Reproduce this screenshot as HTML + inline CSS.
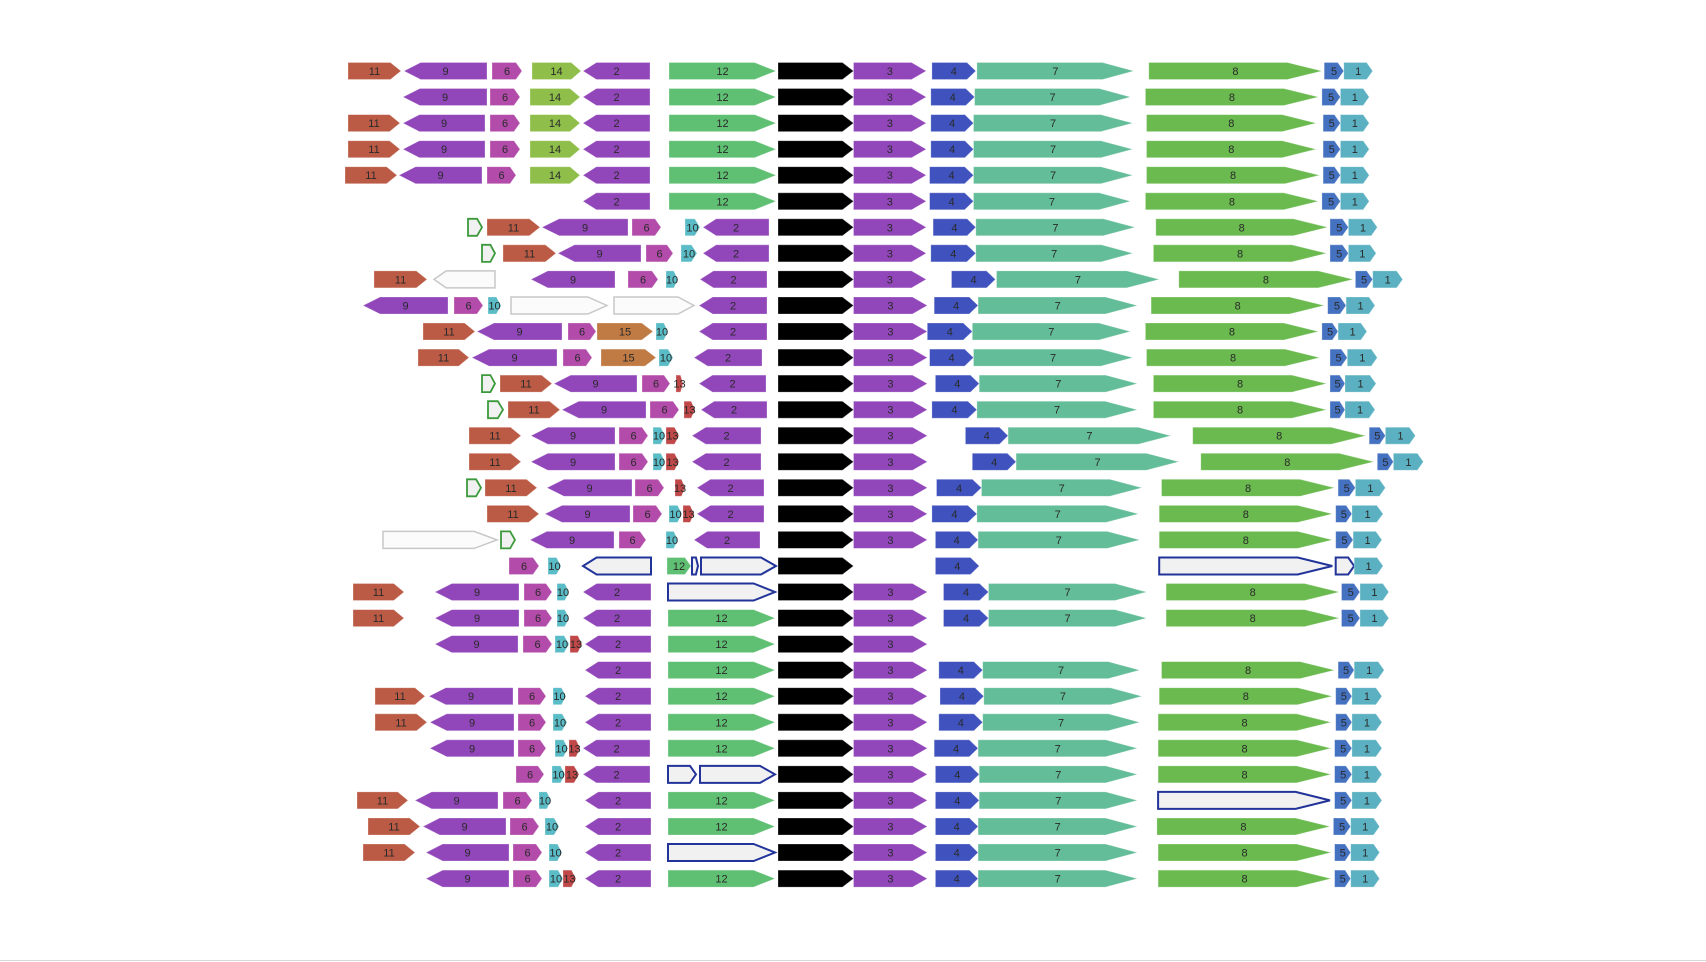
<!DOCTYPE html>
<html><head><meta charset="utf-8"><style>
html,body{margin:0;padding:0;background:#fff;}
svg{display:block;}
text{font-family:"Liberation Sans",sans-serif;font-size:11px;fill:#2a2a2a;}
</style></head><body>
<svg id="chart" width="1706" height="962" viewBox="0 0 1706 962">
<line x1="0" y1="960.5" x2="1706" y2="960.5" stroke="#d8d8d8" stroke-width="1"/>
</svg>
<script>
const colors = {"1":"#5bb1c1","2":"#9146b9","3":"#9146b9","4":"#3f52bd","5":"#4472c0","6":"#b24ba9","7":"#63bd98","8":"#6aba4f","9":"#9146b9","10":"#5abcc6","11":"#bb5b45","12":"#5fbf72","13":"#c04848","14":"#8fbe4a","15":"#c07a44","B":"#000000"};
const outlineStyles = {g:["#fbfbfb","#c8c8c8",1.5],G:["#f1f1f1","#3c9a3c",1.8],N:["#f1f1f1","#22339a",2]};
const rowStart = 71;
const rowStep = 26.05;
const BLK = ["B",778,851,1];
const row0 = [["11",348,401,1],["9",404,487,-1],["6",492,522,1],["14",532,581,1],["2",583,650,-1],["12",669,776,1],BLK,["3",851,914,1],["4",919,957,1],["7",958,1094,1],["8",1107,1257,1],["5",1259,1276,1],["1",1276,1301,1]];
const row1 = [["9",403,487,-1],["6",490,520,1],["14",530,580,1],["2",583,650,-1],["12",669,776,1],BLK,["3",851,914,1],["4",918,956,1],["7",956,1091,1],["8",1104,1254,1],["5",1257,1273,1],["1",1273,1298,1]];
const row2 = [["11",348,400,1],["9",403,485,-1],["6",490,520,1],["14",530,580,1],["2",583,650,-1],["12",669,776,1],BLK,["3",851,914,1],["4",918,955,1],["7",955,1093,1],["8",1105,1252,1],["5",1258,1273,1],["1",1273,1298,1]];
const row3 = row2;
const row4 = [["11",345,397,1],["9",399,482,-1],["6",487,516,1],["14",530,580,1],["2",583,650,-1],["12",669,776,1],BLK,["3",851,914,1],["4",917,955,1],["7",955,1093,1],["8",1105,1255,1],["5",1258,1273,1],["1",1273,1298,1]];
const row5 = [["2",583,650,-1],["12",669,776,1],BLK,["3",851,914,1],["4",917,955,1],["7",955,1091,1],["8",1104,1254,1],["5",1257,1273,1],["1",1273,1298,1]];
const row6 = [["",468,482,1,"G"],["11",487,540,1],["9",542,628,-1],["6",632,661,1],["10",685,700,1],["2",703,769,-1],BLK,["3",851,914,1],["4",920,957,1],["7",957,1095,1],["8",1113,1262,1],["5",1264,1280,1],["1",1280,1305,1]];
const row7 = [["",482,495,1,"G"],["11",503,556,1],["9",558,641,-1],["6",646,673,1],["10",681,697,1],["2",703,769,-1],BLK,["3",851,914,1],["4",918,957,1],["7",957,1093,1],["8",1111,1261,1],["5",1264,1280,1],["1",1280,1304,1]];
const row8 = [["11",374,427,1],["",434,495,-1,"g"],["9",531,615,-1],["6",628,658,1],["10",666,678,1],["2",700,767,-1],BLK,["3",851,914,1],["4",936,974,1],["7",975,1116,1],["8",1133,1284,1],["5",1286,1301,1],["1",1301,1327,1]];
const row9 = [["9",363,448,-1],["6",454,483,1],["10",488,501,1],["",511,607,1,"g"],["",614,694,1,"g"],["2",699,767,-1],BLK,["3",851,915,1],["4",921,959,1],["7",959,1097,1],["8",1109,1259,1],["5",1262,1278,1],["1",1278,1303,1]];
const row10 = [["11",423,475,1],["9",477,562,-1],["6",568,596,1],["15",597,653,1],["10",656,668,1],["2",699,767,-1],BLK,["3",851,915,1],["4",915,954,1],["7",954,1091,1],["8",1104,1254,1],["5",1257,1271,1],["1",1271,1296,1]];
const row11 = [["11",418,469,1],["9",472,557,-1],["6",563,592,1],["15",601,656,1],["10",659,673,1],["2",694,762,-1],BLK,["3",851,915,1],["4",917,955,1],["7",955,1093,1],["8",1105,1255,1],["5",1264,1279,1],["1",1279,1305,1]];
const row12 = [["",482,495,1,"G"],["11",500,552,1],["9",554,637,-1],["6",642,670,1],["13",676,683,1],["2",699,766,-1],BLK,["3",851,915,1],["4",922,960,1],["7",960,1097,1],["8",1111,1261,1],["5",1264,1277,1],["1",1277,1304,1]];
const row13 = [["",488,503,1,"G"],["11",508,560,1],["9",562,646,-1],["6",650,679,1],["13",684,695,1],["2",701,767,-1],BLK,["3",851,915,1],["4",919,958,1],["7",958,1097,1],["8",1111,1261,1],["5",1264,1277,1],["1",1277,1303,1]];
const row14 = [["11",469,521,1],["9",531,615,-1],["6",619,648,1],["10",653,665,1],["13",666,679,1],["2",692,761,-1],BLK,["3",851,915,1],["4",948,985,1],["7",985,1126,1],["8",1145,1295,1],["5",1298,1312,1],["1",1312,1338,1]];
const row15 = [["11",469,521,1],["9",531,615,-1],["6",619,648,1],["10",653,665,1],["13",666,679,1],["2",692,761,-1],BLK,["3",851,915,1],["4",954,992,1],["7",992,1133,1],["8",1152,1302,1],["5",1305,1319,1],["1",1319,1345,1]];
const row16 = [["",467,481,1,"G"],["11",485,537,1],["9",547,632,-1],["6",635,664,1],["13",675,685,1],["2",697,764,-1],BLK,["3",851,915,1],["4",923,962,1],["7",962,1101,1],["8",1118,1268,1],["5",1271,1286,1],["1",1286,1312,1]];
const row17 = [["11",487,539,1],["9",545,630,-1],["6",633,662,1],["10",669,682,1],["13",683,694,1],["2",697,764,-1],BLK,["3",851,915,1],["4",919,958,1],["7",958,1098,1],["8",1116,1266,1],["5",1269,1283,1],["1",1283,1310,1]];
const row18 = [["",383,497,1,"g"],["",501,515,1,"G"],["9",530,614,-1],["6",619,646,1],["10",666,678,1],["2",694,760,-1],BLK,["3",851,915,1],["4",922,959,1],["7",959,1099,1],["8",1116,1266,1],["5",1269,1284,1],["1",1284,1309,1]];
const row19 = [["6",509,539,1],["10",548,561,1],["",583,651,-1,"N"],["12",667,691,1],["",692,698,1,"N"],["",701,776,1,"N"],BLK,["4",922,960,1],["",1116,1266,1,"N"],["",1269,1285,1,"N"],["1",1285,1310,1]];
const row20 = [["11",353,404,1],["9",435,519,-1],["6",524,552,1],["10",557,569,1],["2",583,651,-1],["",668,775,1,"N"],BLK,["3",851,915,1],["4",929,968,1],["7",968,1105,1],["8",1122,1272,1],["5",1274,1290,1],["1",1290,1315,1]];
const row21 = [["11",353,404,1],["9",435,519,-1],["6",524,552,1],["10",557,569,1],["2",583,651,-1],["12",668,775,1],BLK,["3",851,915,1],["4",929,968,1],["7",968,1105,1],["8",1122,1272,1],["5",1274,1290,1],["1",1290,1315,1]];
const row22 = [["9",435,518,-1],["6",523,552,1],["10",555,569,1],["13",570,582,1],["2",585,651,-1],["12",668,775,1],BLK,["3",851,915,1]];
const row23 = [["2",585,651,-1],["12",668,775,1],BLK,["3",851,915,1],["4",925,963,1],["7",963,1099,1],["8",1118,1268,1],["5",1271,1285,1],["1",1285,1311,1]];
const row24 = [["11",375,425,1],["9",429,513,-1],["6",518,546,1],["10",553,566,1],["2",585,651,-1],["12",668,775,1],BLK,["3",851,915,1],["4",926,964,1],["7",964,1101,1],["8",1116,1266,1],["5",1269,1283,1],["1",1283,1309,1]];
const row25 = [["11",375,427,1],["9",430,514,-1],["6",518,546,1],["10",553,567,1],["2",585,651,-1],["12",668,775,1],BLK,["3",851,915,1],["4",925,963,1],["7",963,1099,1],["8",1115,1265,1],["5",1269,1283,1],["1",1283,1309,1]];
const row26 = [["9",430,514,-1],["6",518,546,1],["10",555,568,1],["13",569,580,1],["2",583,650,-1],["12",668,775,1],BLK,["3",851,915,1],["4",921,959,1],["7",959,1097,1],["8",1115,1265,1],["5",1268,1283,1],["1",1283,1309,1]];
const row27 = [["6",516,544,1],["10",552,565,1],["13",565,579,1],["2",583,650,-1],["",668,696,1,"N"],["",700,775,1,"N"],BLK,["3",851,915,1],["4",922,960,1],["7",960,1097,1],["8",1115,1265,1],["5",1268,1283,1],["1",1283,1309,1]];
const row28 = [["11",357,408,1],["9",415,498,-1],["6",503,532,1],["10",539,551,1],["2",585,651,-1],["12",668,775,1],BLK,["3",851,915,1],["4",922,960,1],["7",960,1097,1],["",1115,1264,1,"N"],["5",1268,1283,1],["1",1283,1309,1]];
const row29 = [["11",368,420,1],["9",423,506,-1],["6",510,539,1],["10",545,559,1],["2",585,651,-1],["12",668,775,1],BLK,["3",851,915,1],["4",922,959,1],["7",959,1097,1],["8",1114,1264,1],["5",1267,1282,1],["1",1282,1307,1]];
const row30 = [["11",363,415,1],["9",426,509,-1],["6",513,542,1],["10",549,562,1],["2",585,651,-1],["",668,775,1,"N"],BLK,["3",851,915,1],["4",922,959,1],["7",959,1097,1],["8",1115,1265,1],["5",1268,1282,1],["1",1282,1307,1]];
const row31 = [["9",426,509,-1],["6",513,542,1],["10",549,563,1],["13",563,576,1],["2",585,651,-1],["12",668,775,1],BLK,["3",851,915,1],["4",922,959,1],["7",959,1097,1],["8",1115,1265,1],["5",1268,1282,1],["1",1282,1307,1]];
const rows = [row0,row1,row2,row3,row4,row5,row6,row7,row8,row9,row10,row11,row12,row13,row14,row15,row16,row17,row18,row19,row20,row21,row22,row23,row24,row25,row26,row27,row28,row29,row30,row31];

const NS = "http://www.w3.org/2000/svg";
const svg = document.getElementById("chart");
const H = 17;
function yOf(i){ return rowStart + i*rowStep; }
function xOf(v){ return v <= 835 ? v : 835 + (v - 835) * 1.1538; }
rows.forEach(function(row, ri){
  const g = document.createElementNS(NS,"g");
  
  
  svg.appendChild(g);
  const cy = yOf(ri), top = cy - H/2, bot = cy + H/2;
  row.forEach(function(gene){
    const s = xOf(gene[1]), e = xOf(gene[2]), len = e - s;
    let h = Math.max(len*0.2, Math.min(6, len*0.35));
    if (gene[0] === "B") h = 11;
    let pts;
    if (gene[3] > 0) pts = [[s,top],[e-h,top],[e,cy],[e-h,bot],[s,bot]];
    else pts = [[s+h,top],[e,top],[e,bot],[s+h,bot],[s,cy]];
    const p = document.createElementNS(NS,"polygon");
    p.setAttribute("points", pts.map(q=>q[0].toFixed(1)+","+q[1].toFixed(1)).join(" "));
    if (gene[4]) {
      const st = outlineStyles[gene[4]];
      p.setAttribute("fill", st[0]); p.setAttribute("stroke", st[1]); p.setAttribute("stroke-width", st[2]);
    } else {
      p.setAttribute("fill", colors[gene[0]]); p.setAttribute("stroke", "rgba(255,255,255,0.35)"); p.setAttribute("stroke-width", "0.8");
    }
    
    
    g.appendChild(p);
    if (gene[0] && gene[0] !== "B") {
      const t = document.createElementNS(NS,"text");
      t.setAttribute("x", ((s+e)/2).toFixed(1));
      t.setAttribute("y", (cy+4).toFixed(1));
      t.setAttribute("text-anchor","middle");
      t.textContent = gene[0];
      
      
      g.appendChild(t);
    }
  });
});
</script>
</body></html>
